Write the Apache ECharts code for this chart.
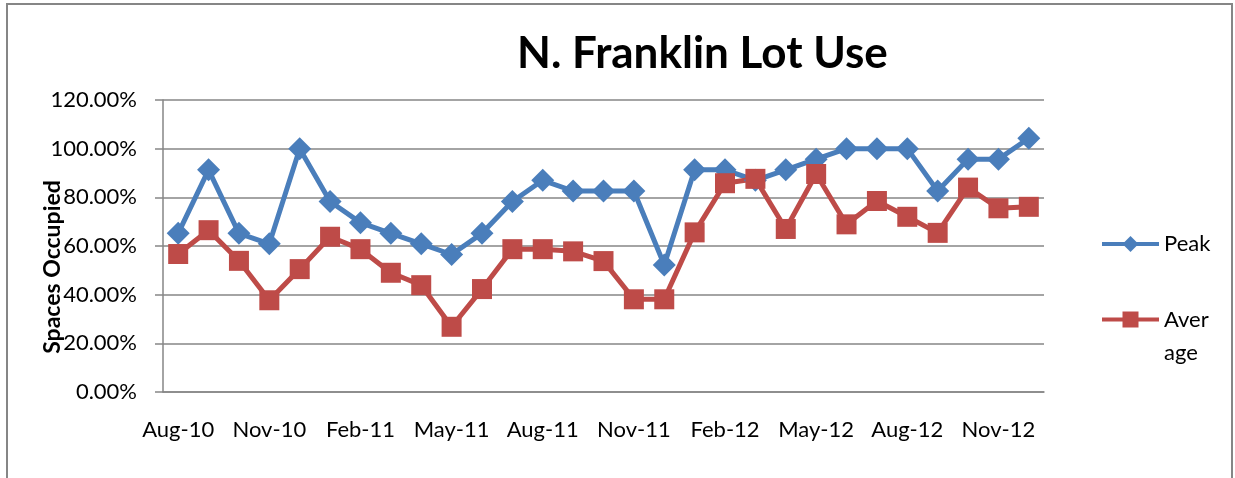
<!DOCTYPE html>
<html>
<head>
<meta charset="utf-8">
<script src="https://cdn.jsdelivr.net/npm/echarts@6/dist/echarts.min.js"></script>
<style>
  html, body { margin: 0; padding: 0; background: #fff; }
  #main { width: 1235px; height: 478px; }
</style>
</head>
<body>
<div id="main"></div>
<script>
// months, one point per month
var months = ['Aug-10', 'Sep-10', 'Oct-10', 'Nov-10', 'Dec-10', 'Jan-11', 'Feb-11', 'Mar-11', 'Apr-11', 'May-11',
  'Jun-11', 'Jul-11', 'Aug-11', 'Sep-11', 'Oct-11', 'Nov-11', 'Dec-11', 'Jan-12', 'Feb-12', 'Mar-12',
  'Apr-12', 'May-12', 'Jun-12', 'Jul-12', 'Aug-12', 'Sep-12', 'Oct-12', 'Nov-12', 'Dec-12'];

// % of spaces occupied
var peak = [65.2, 91.3, 65.2, 60.9, 100, 78.3, 69.6, 65.2, 60.9, 56.5,
  65.2, 78.3, 87.0, 82.6, 82.6, 82.6, 52.2, 91.3, 91.3, 87.0,
  91.3, 95.7, 100, 100, 100, 82.6, 95.7, 95.7, 104.3];
var average = [56.7, 66.5, 53.9, 37.7, 50.5, 63.8, 58.7, 49.0, 43.9, 26.8,
  42.3, 58.7, 58.7, 57.8, 53.8, 38.1, 38.1, 65.6, 85.8, 87.6,
  67.0, 89.6, 68.9, 78.5, 72.0, 65.4, 84.0, 75.5, 76.1];

var yTicks = { min: 0, max: 120, step: 20 };

var chart = echarts.init(document.getElementById('main'));
var font = 'Lato, "Open Sans", sans-serif';
var gray = '#868686';

var option = {
  backgroundColor: '#ffffff',
  color: ['#4A7EBB', '#BE4B48'],
  textStyle: { fontFamily: font },
  title: {
    text: 'N. Franklin Lot Use',
    left: 517,
    top: 32,
    padding: 0,
    textStyle: { fontFamily: font, fontSize: 44, fontWeight: 'bold', color: '#000' }
  },
  grid: { left: 163, right: 191, top: 100, bottom: 86 },
  legend: [{
    data: ['Peak'],
    orient: 'vertical',
    left: 1095,
    top: 228,
    itemWidth: 57,
    itemHeight: 20,
    lineStyle: { width: 4 },
    textStyle: { fontFamily: font, fontSize: 22, color: '#000' }
  }, {
    data: ['Average'],
    orient: 'vertical',
    left: 1095,
    top: 265,
    itemWidth: 57,
    itemHeight: 20,
    lineStyle: { width: 4 },
    // wrapped like the original; empty first line keeps "Aver" level with the icon
    formatter: function (name) { return '\n' + name.slice(0, 4) + '\n' + name.slice(4); },
    textStyle: { fontFamily: font, fontSize: 22, color: '#000', lineHeight: 33 }
  }],
  xAxis: {
    type: 'category',
    data: months,
    boundaryGap: true,
    axisLine: { lineStyle: { color: gray, width: 1.5 } },
    axisTick: { interval: 2, length: 7, lineStyle: { color: gray, width: 1.5 } },
    axisLabel: { interval: 2, margin: 27, fontSize: 22, color: '#000', fontFamily: font },
    splitLine: { show: false }
  },
  yAxis: {
    type: 'value',
    min: yTicks.min,
    max: yTicks.max,
    interval: yTicks.step,
    axisLine: { show: true, lineStyle: { color: gray, width: 1.5 } },
    axisTick: { show: true, length: 8, lineStyle: { color: gray, width: 1.5 } },
    axisLabel: {
      margin: 26, fontSize: 22, color: '#000', fontFamily: font,
      formatter: function (v) { return v.toFixed(2) + '%'; }
    },
    splitLine: { lineStyle: { color: gray, width: 1.5 } }
  },
  graphic: [{
    type: 'rect',
    silent: true,
    z: -10,
    shape: { x: 7, y: 4, width: 1225, height: 520 },
    style: { fill: 'none', stroke: gray, lineWidth: 2 }
  }, {
    type: 'text',
    x: 53,
    y: 267,
    rotation: Math.PI / 2,
    style: {
      text: 'Spaces Occupied',
      font: 'bold 23px ' + font,
      fill: '#000',
      align: 'center',
      verticalAlign: 'middle'
    }
  }],
  series: [{
    name: 'Peak',
    type: 'line',
    data: peak,
    symbol: 'diamond',
    symbolSize: 23,
    showAllSymbol: true,
    lineStyle: { width: 5 },
    itemStyle: { color: '#4A7EBB' }
  }, {
    name: 'Average',
    type: 'line',
    data: average,
    symbol: 'rect',
    symbolSize: 20,
    showAllSymbol: true,
    lineStyle: { width: 5 },
    itemStyle: { color: '#BE4B48' }
  }]
};

chart.setOption(option);
</script>
</body>
</html>
